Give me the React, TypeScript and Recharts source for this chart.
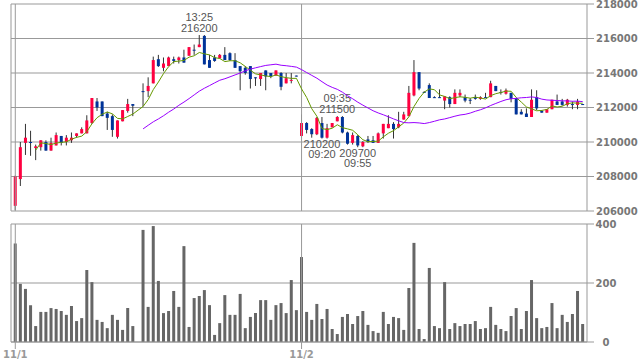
import React from 'react';
import {
  ComposedChart,
  Bar,
  Line,
  XAxis,
  YAxis,
  CartesianGrid,
  ReferenceLine
} from 'recharts';

// 5-minute candles, 11/1 -> 11/2 (index 24 has no trade)
const opens = [
  206300, 207850, 209950, 210000, 209650, 209700, 210000, 209500, 209800, 210350,
  210000, 210100, 210350, 210500, 210500, 211100, 212350, 212350, 211650, 211500,
  210300, 211200, 211800, 212200, null, 212950, 212950, 213400, 214800, 214300,
  214400, 214800, 214750, 214900, 215000, 215350, 215500, 216150, 214750, 214900,
  214850, 215050, 215150, 214750, 214400, 214300, 214400, 213750, 213650, 214150,
  214000, 213850, 214000, 213400, 213550, 213850, 210350, 211100, 210750, 210450,
  211100, 210250, 210850, 211200, 211450, 210550, 209950, 210350, 209750, 210150,
  210100, 209950, 210500, 210800, 211050, 210850, 211300, 211500, 212700, 214050,
  212900, 213300, 212600, 212600, 212400, 212600, 212200, 212700, 212600, 212450,
  212600, 212500, 212600, 212600, 213250, 212900, 212800, 212850, 212550, 211750,
  211650, 211450, 212600, 211800, 211700, 211900, 212350, 212350, 212150, 212200,
  212150, 212200
];
const highs = [
  208050, 210000, 211050, 210650, 209850, 210100, 210100, 210250, 210550, 210350,
  210400, 210550, 210500, 210850, 211550, 212550, 212550, 212350, 211750, 211600,
  211250, 211850, 212500, 212200, null, 213400, 213750, 214950, 215050, 214900,
  214950, 214950, 214950, 215350, 215500, 215650, 216200, 216200, 215050, 215050,
  215100, 215500, 215200, 215150, 214400, 214400, 214400, 213750, 214000, 214150,
  214000, 214150, 214050, 214000, 214000, 213850, 211600, 211150, 210800, 211450,
  211450, 211050, 211100, 211500, 211500, 210600, 210550, 210400, 210050, 210350,
  210350, 210550, 211050, 211550, 211150, 211750, 211750, 213250, 214750, 214050,
  212950, 213400, 212650, 213050, 212650, 212650, 213050, 213050, 212750, 212550,
  212750, 212650, 212850, 213550, 213250, 213050, 213100, 212850, 212550, 211900,
  211950, 213050, 213000, 211850, 211900, 212450, 212750, 212500, 212500, 212350,
  212500, 212200
];
const lows = [
  206050, 207450, 209250, 209200, 208950, 209500, 209500, 209500, 209800, 209800,
  209800, 209950, 210250, 210500, 210500, 211050, 211800, 211500, 210700, 210300,
  210200, 211200, 211700, 211500, null, 212050, 212600, 213400, 214350, 214100,
  214400, 214550, 214550, 214600, 215000, 215050, 215500, 214500, 214300, 214650,
  214850, 214750, 214700, 214300, 213000, 213900, 213100, 213250, 213250, 213000,
  213700, 213850, 213000, 213400, 213400, 213800, 210250, 210500, 210250, 210400,
  210200, 210200, 210850, 211200, 210500, 209850, 209850, 209700, 209700, 209950,
  209950, 209950, 210200, 210800, 210200, 210800, 211300, 211500, 212650, 213000,
  212850, 212550, 212550, 212550, 211900, 212000, 212200, 212600, 212300, 212200,
  212450, 212450, 212550, 212600, 212950, 212750, 212750, 212300, 211600, 211600,
  211450, 211450, 211850, 211700, 211700, 211900, 212150, 212100, 212050, 211900,
  211900, 212150
];
const closes = [
  208000, 209700, 210250, 209950, 209750, 210100, 209500, 209950, 210400, 209950,
  210250, 210250, 210500, 210750, 211250, 212550, 212000, 211500, 211400, 210700,
  211250, 211850, 212200, 212100, null, 212900, 213250, 214750, 214400, 214550,
  214900, 214700, 214900, 214600, 215500, 215300, 215650, 214500, 214300, 214700,
  215050, 214750, 214750, 214300, 214100, 214000, 213650, 213700, 214000, 213800,
  213800, 214150, 213200, 213700, 213600, 213800, 211100, 210700, 210450, 211400,
  210250, 210800, 211100, 211450, 210550, 209900, 210400, 209800, 210000, 210000,
  209950, 210500, 211050, 211050, 210750, 211050, 211600, 212850, 214050, 213100,
  212850, 212550, 212600, 212550, 212650, 212200, 212850, 212850, 212400, 212400,
  212500, 212600, 212550, 213400, 212950, 212850, 213000, 212500, 211600, 211600,
  211450, 212450, 211950, 211700, 211900, 212450, 212150, 212150, 212450, 212150,
  212350, 212150
];
const volumes = [
  334, 197, 180, 125, 54, 102, 102, 115, 112, 105,
  92, 122, 71, 81, 244, 203, 75, 68, 47, 92,
  75, 41, 115, 54, null, 380, 119, 393, 207, 98,
  105, 173, 119, 325, 51, 149, 156, 176, 125, 24,
  64, 159, 92, 92, 163, 47, 85, 98, 142, 142,
  75, 125, 132, 98, 210, 108, 288, 102, 75, 129,
  78, 112, 44, 27, 85, 95, 61, 88, 105, 58,
  37, 31, 102, 61, 85, 81, 41, 183, 336, 44,
  10, 251, 54, 47, 203, 44, 64, 54, 61, 61,
  71, 44, 47, 119, 58, 44, 37, 88, 115, 44,
  105, 210, 81, 47, 51, 132, 47, 92, 68, 95,
  173, 61
];

const priceTicks = [206000, 208000, 210000, 212000, 214000, 216000, 218000];
const volumeTicks = [0, 200, 400];
const dateTicks = [0, 56];
const dateLabels = ['11/1', '11/2'];

// high/low annotations
const markIndex = [36, 60, 63, 67];
const markKind = ['high', 'low', 'high', 'low'];
const markTime = ['13:25', '09:20', '09:35', '09:55'];

const X_DOMAIN: [number, number] = [-0.84, 111.84];
const UP = '#ff0040';
const DOWN = '#003399';
const GRID = '#999999';
const AXIS_FONT = { fontFamily: 'DejaVu Sans', fontWeight: 'bold', fontSize: 10 };

function movingAverage(values: (number | null)[], n: number) {
  const out: (number | null)[] = [];
  const win: number[] = [];
  values.forEach(v => {
    if (v == null) {
      out.push(null);
      return;
    }
    win.push(v);
    if (win.length > n) win.shift();
    out.push(win.length === n ? win.reduce((a, b) => a + b, 0) / n : null);
  });
  return out;
}

const ma5 = movingAverage(closes, 5);
const ma25 = movingAverage(closes, 25);

const rows = opens.map((o, i) => ({
  idx: i,
  open: o,
  high: highs[i],
  low: lows[i],
  close: closes[i],
  range: o == null ? null : [lows[i], highs[i]],
  ma5: ma5[i],
  ma25: ma25[i],
  vol: volumes[i]
}));

const renderCandle = (props: any) => {
  const { x, y, width, height, payload } = props;
  if (payload.open == null || height == null) return <g />;
  const cx = x + width / 2;
  const span = payload.high - payload.low;
  const toY = (v: number) => y + ((payload.high - v) / span) * height;
  const yo = toY(payload.open);
  const yc = toY(payload.close);
  const top = Math.min(yo, yc);
  const h = Math.max(Math.abs(yo - yc), 1);
  const color = payload.close > payload.open ? UP : DOWN;
  const m = markIndex.indexOf(payload.idx);
  const textStyle = { fontFamily: 'Liberation Sans, Arial', fontSize: 11, fill: '#555' };

  let marks = null;
  if (m >= 0) {
    if (markKind[m] === 'high') {
      marks = (
        <g>
          <text x={cx} y={y - 18} dy="0.35em" textAnchor="middle" {...textStyle}>{markTime[m]}</text>
          <text x={cx} y={y - 7} dy="0.35em" textAnchor="middle" {...textStyle}>{payload.high}</text>
        </g>
      );
    } else {
      const yl = y + height;
      marks = (
        <g>
          <text x={cx} y={yl + 5.5} dy="0.35em" textAnchor="middle" {...textStyle}>{payload.low}</text>
          <text x={cx} y={yl + 16} dy="0.35em" textAnchor="middle" {...textStyle}>{markTime[m]}</text>
        </g>
      );
    }
  }

  return (
    <g>
      <line x1={cx} x2={cx} y1={y} y2={y + height} stroke="#333" strokeWidth={1} />
      <rect x={cx - 1.5} y={top} width={3} height={h} fill={color} />
      {marks}
    </g>
  );
};

const VolumeTick = (props: any) => (
  <text x={props.x + 10} y={props.y} dy="0.355em" textAnchor="middle" fill="#777" {...AXIS_FONT}>
    {props.payload.value}
  </text>
);

export default function App() {
  return (
    <div style={{ position: 'absolute', left: 0, top: 0, width: 638, height: 362, background: '#fff' }}>
      <div style={{ position: 'absolute', left: 0, top: 0 }}>
        <ComposedChart width={638} height={215} data={rows} margin={{ top: 4, right: 0, bottom: 4, left: 11 }}>
          <CartesianGrid stroke={GRID} vertical={false} />
          <XAxis type="number" dataKey="idx" domain={X_DOMAIN} hide allowDataOverflow />
          <YAxis
            orientation="right"
            width={51}
            domain={[206000, 218000]}
            ticks={priceTicks}
            interval={0}
            tickSize={7}
            stroke={GRID}
            tick={{ fill: '#777', ...AXIS_FONT }}
            allowDataOverflow
          />
          <ReferenceLine x={X_DOMAIN[0]} stroke={GRID} />
          <ReferenceLine x={dateTicks[0]} stroke={GRID} />
          <ReferenceLine x={dateTicks[1]} stroke={GRID} />
          <Bar dataKey="range" barSize={3} shape={renderCandle} isAnimationActive={false} />
          <Line type="linear" dataKey="ma5" stroke="#669900" strokeWidth={1} dot={false} activeDot={false} connectNulls isAnimationActive={false} />
          <Line type="linear" dataKey="ma25" stroke="#9900ff" strokeWidth={1} dot={false} activeDot={false} isAnimationActive={false} />
        </ComposedChart>
      </div>
      <div style={{ position: 'absolute', left: 0, top: 215 }}>
        <ComposedChart width={638} height={147} data={rows} margin={{ top: 9, right: 0, bottom: 0, left: 11 }}>
          <CartesianGrid stroke={GRID} vertical={false} />
          <XAxis
            type="number"
            dataKey="idx"
            domain={X_DOMAIN}
            ticks={dateTicks}
            interval={0}
            tickFormatter={(v: number) => dateLabels[dateTicks.indexOf(v)]}
            tickSize={7}
            height={20}
            stroke={GRID}
            tick={{ fill: '#999', ...AXIS_FONT }}
            allowDataOverflow
          />
          <YAxis
            orientation="right"
            width={51}
            domain={[0, 400]}
            ticks={volumeTicks}
            interval={0}
            tickSize={7}
            stroke={GRID}
            tick={<VolumeTick />}
            allowDataOverflow
          />
          <ReferenceLine x={X_DOMAIN[0]} stroke={GRID} />
          <ReferenceLine x={dateTicks[0]} stroke={GRID} />
          <ReferenceLine x={dateTicks[1]} stroke={GRID} />
          <Bar dataKey="vol" fill="#666" barSize={3} isAnimationActive={false} />
        </ComposedChart>
      </div>
    </div>
  );
}
